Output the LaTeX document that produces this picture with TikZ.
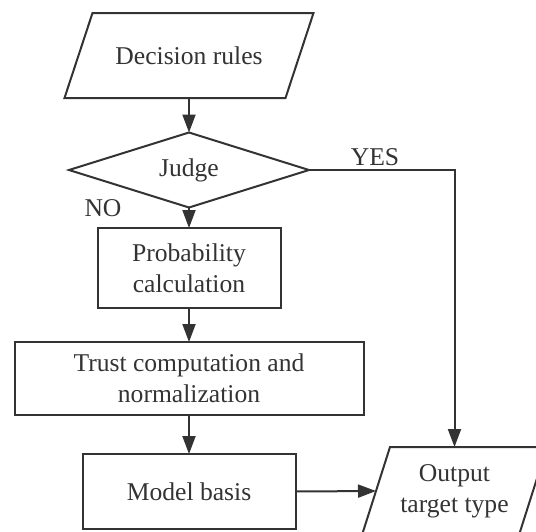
\documentclass[tikz,border=0pt]{standalone}
\usepackage{fontspec}
\setmainfont{Liberation Serif}
\usetikzlibrary{shapes.geometric,arrows.meta}
% slanted frame round a named node
\newcommand\ioframe[1]{\draw ([xshift=7pt]#1.north west) -- ([xshift=7pt]#1.north east) -- ([xshift=-7pt]#1.south east) -- ([xshift=-7pt]#1.south west) -- cycle;}
\begin{document}
\begin{tikzpicture}[x=0.5pt, y=-0.5pt, line width=1pt, color=black!80,
        every node/.style={font=\fontsize{12.8}{15.5}\selectfont, align=center, inner sep=0pt, outer sep=0pt},
        box/.style={rectangle, draw},
        io/.style={rectangle},
        test/.style={diamond, aspect=3.2, draw},
        arr/.style={-{Triangle[length=9pt, width=6.5pt]}}]
        \clip (0,0) rectangle (536,531);
        \node[io, minimum width=110.5pt, minimum height=42.5pt] (rules) at (189, 55.5) {Decision rules};
        \node[test, minimum width=120pt, minimum height=37.5pt] (judge) at (189, 170) {Judge};
        \node[box, minimum width=91.5pt, minimum height=40pt] (prob) at (189, 268) {Probability\\calculation};
        \node[box, minimum width=174.5pt, minimum height=36.5pt] (trust) at (189, 378.5) {Trust computation and\\normalization};
        \node[box, minimum width=106.5pt, minimum height=37.5pt] (model) at (189, 491.5) {Model basis};
        \node[io, minimum width=78.5pt, minimum height=44pt] (out) at (454.5, 491) {Output\\target type};
        \node (yes) at (375, 157) {YES};
        \node (no) at (103, 208) {NO};
        \ioframe{rules}
        \ioframe{out}

        \draw[arr] (rules) edge (judge);
        \draw[arr] (judge) edge (prob);
        \draw[arr] (prob) edge (trust);
        \draw[arr] (trust) edge (model);
        \draw[arr] (model.east) -- (out.west);
        \draw[arr] (judge.east) -| (out.north);
    \end{tikzpicture}
\end{document}
